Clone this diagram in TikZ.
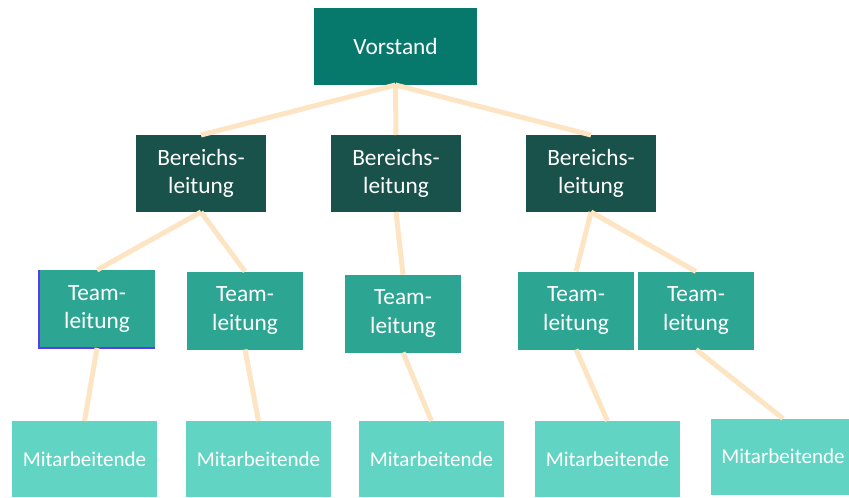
\documentclass[tikz,border=0pt]{standalone}
\usepackage{fontspec}
\setmainfont{Carlito}
\usepackage{tikz}
\definecolor{vorstandgreen}{HTML}{07786C}
\definecolor{bereichgreen}{HTML}{18524B}
\definecolor{teamgreen}{HTML}{2DA593}
\definecolor{staffgreen}{HTML}{62D4C4}
\definecolor{linkpeach}{HTML}{FDE5C3}
\definecolor{edgeviolet}{HTML}{5B3BF0}
\begin{document}
\begin{tikzpicture}[x=0.75pt,y=-0.75pt,
    box/.style={inner sep=0pt, outer sep=0pt, text=white, align=center,
        font=\fontsize{17.5}{21.5}\selectfont},
    topbox/.style={box, fill=vorstandgreen, minimum width=122.25pt, minimum height=57.75pt},
    areabox/.style={box, fill=bereichgreen, minimum width=97.5pt, minimum height=57.75pt},
    teambox/.style={box, fill=teamgreen, minimum width=87pt, minimum height=58.5pt},
    staffbox/.style={box, fill=staffgreen, minimum width=108.75pt, minimum height=57pt,
        font=\fontsize{15.8}{19}\selectfont},
    link/.style={draw=linkpeach, line width=3.75pt}]
        \clip (0,0) rectangle (849,497);
        % Top level
        \node[topbox] (vorstand) at (395.5,46.5) {Vorstand};
        % Bereichsleitungen
        \node[areabox] (bl1) at (201,173.5) {Bereichs-\\leitung};
        \node[areabox] (bl2) at (396,173.5) {Bereichs-\\leitung};
        \node[areabox] (bl3) at (591,173.5) {Bereichs-\\leitung};
        % Teamleitungen
        \node[teambox] (tl1) at (97,309) {Team-\\leitung};
        \node[teambox] (tl2) at (245,310.5) {Team-\\leitung};
        \node[teambox] (tl3) at (403,313.5) {Team-\\leitung};
        \node[teambox] (tl4) at (576,310.5) {Team-\\leitung};
        \node[teambox] (tl5) at (696,310.5) {Team-\\leitung};
        \draw[edgeviolet, line width=1.2pt] (tl1.north west) -- (tl1.south west) -- (tl1.south east);
        % Mitarbeitende
        \node[staffbox] (ma1) at (84.5,459) {Mitarbeitende};
        \node[staffbox] (ma2) at (258.5,459) {Mitarbeitende};
        \node[staffbox] (ma3) at (431.5,459) {Mitarbeitende};
        \node[staffbox] (ma4) at (607.5,459) {Mitarbeitende};
        \node[staffbox] (ma5) at (783,456.5) {Mitarbeitende};
        % Connectors
        \path[link] (vorstand.south) -- (bl1.north)
                    (vorstand.south) -- (bl2.north)
                    (vorstand.south) -- (bl3.north);
        \path[link] (bl1.south) -- (tl1.north)
                    (bl1.south) -- (tl2.north)
                    (bl2.south) -- (tl3.north)
                    (bl3.south) -- (tl4.north)
                    (bl3.south) -- (tl5.north);
        \path[link] (tl1.south) -- (ma1.north)
                    (tl2.south) -- (ma2.north)
                    (tl3.south) -- (ma3.north)
                    (tl4.south) -- (ma4.north)
                    (tl5.south) -- (ma5.north);
    \end{tikzpicture}
\end{document}
